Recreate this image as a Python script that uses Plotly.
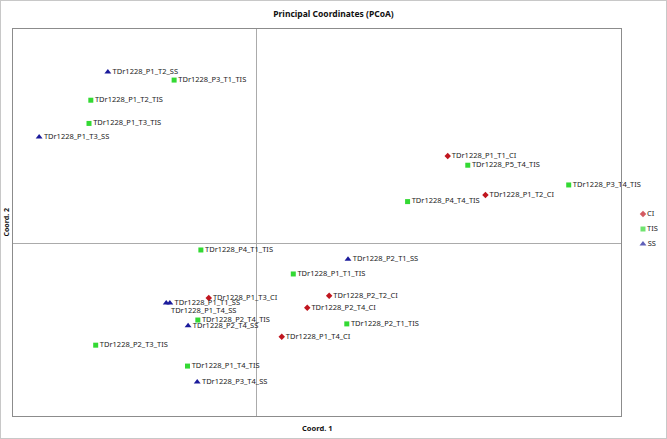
import plotly.graph_objects as go

# PCoA scores
ci_names = ["TDr1228_P1_T1_CI", "TDr1228_P1_T2_CI", "TDr1228_P1_T3_CI",
            "TDr1228_P2_T2_CI", "TDr1228_P2_T4_CI", "TDr1228_P1_T4_CI"]
ci_x = [0.315, 0.377, -0.078, 0.120, 0.084, 0.042]
ci_y = [0.227, 0.126, -0.140, -0.134, -0.165, -0.240]

tis_names = ["TDr1228_P3_T1_TIS", "TDr1228_P1_T2_TIS", "TDr1228_P1_T3_TIS",
             "TDr1228_P5_T4_TIS", "TDr1228_P3_T4_TIS", "TDr1228_P4_T4_TIS",
             "TDr1228_P4_T1_TIS", "TDr1228_P1_T1_TIS", "TDr1228_P2_T4_TIS",
             "TDr1228_P2_T1_TIS", "TDr1228_P2_T3_TIS", "TDr1228_P1_T4_TIS"]
tis_x = [-0.135, -0.272, -0.275, 0.348, 0.514, 0.249,
         -0.091, 0.061, -0.096, 0.149, -0.264, -0.113]
tis_y = [0.423, 0.371, 0.311, 0.203, 0.152, 0.109,
         -0.016, -0.078, -0.197, -0.207, -0.262, -0.316]

ss_names = ["TDr1228_P1_T2_SS", "TDr1228_P1_T3_SS", "TDr1228_P2_T1_SS",
            "TDr1228_P1_T1_SS", "TDr1228_P1_T4_SS", "TDr1228_P2_T4_SS",
            "TDr1228_P3_T4_SS"]
ss_x = [-0.244, -0.357, 0.151, -0.142, -0.148, -0.112, -0.097]
ss_y = [0.444, 0.276, -0.040, -0.153, -0.153, -0.212, -0.357]

legend_labels = ["CI", "TIS", "SS"]

FONT = "Noto Sans, sans-serif"

# labels that were nudged to avoid overlap in the original
label_pos = {"TDr1228_P1_T4_SS": "bottom right"}

groups = [
    ("CI", ci_names, ci_x, ci_y, "diamond", 5, "#C0161F"),
    ("TIS", tis_names, tis_x, tis_y, "square", 5, "#33D933"),
    ("SS", ss_names, ss_x, ss_y, "triangle-up", 6, "#1B1B9B"),
]

fig = go.Figure()
for name, labels, xs, ys, sym, size, color in groups:
    fig.add_trace(go.Scatter(
        x=xs, y=ys, mode="markers+text", name=name, showlegend=False,
        text=labels,
        textposition=[label_pos.get(l, "middle right") for l in labels],
        textfont=dict(family=FONT, size=7.5, color="#222222"),
        marker=dict(symbol=sym, size=size, color=color, line=dict(width=0)),
        cliponaxis=False,
    ))

# hand-made legend in the strip right of the frame (x2/y2 run in page pixels)
leg_y = [214, 229, 244]
fig.add_trace(go.Scatter(
    x=[643] * 3, y=leg_y, mode="markers+text", showlegend=False,
    xaxis="x2", yaxis="y2", text=legend_labels, textposition="middle right",
    textfont=dict(family=FONT, size=7.5, color="#222222"),
    marker=dict(symbol=[g[4] for g in groups], size=[5, 5, 6],
                color=[g[6] for g in groups], line=dict(width=0)),
    cliponaxis=False,
))

axis_common = dict(
    showgrid=False, showticklabels=False, ticks="",
    showline=True, mirror=True, linecolor="#8C8C8C", linewidth=1.2,
    zeroline=True, zerolinecolor="#ABABAB", zerolinewidth=1,
)
hidden = dict(visible=False, showgrid=False, zeroline=False)

fig.update_layout(
    width=667, height=439,
    margin=dict(l=13, r=0, t=29, b=23),
    paper_bgcolor="white", plot_bgcolor="white",
    font=dict(family=FONT, size=8, color="#222222"),
    title=dict(text="<b>Principal Coordinates (PCoA)</b>", xref="container",
               x=0.5, y=0.968, yanchor="middle", xanchor="center",
               font=dict(family=FONT, size=8.5, color="#111111")),
    xaxis=dict(range=[-0.40, 0.60], domain=[0, 608 / 654], **axis_common),
    yaxis=dict(range=[-0.445, 0.555], **axis_common),
    xaxis2=dict(domain=[0.935, 1], range=[624.5, 667], anchor="y2", **hidden),
    yaxis2=dict(domain=[0, 1], range=[416, 29], anchor="x2", **hidden),
    annotations=[
        dict(text="<b>Coord. 1</b>", xref="x domain", yref="paper", x=0.5, y=-0.012,
             xanchor="center", yanchor="top", showarrow=False,
             font=dict(family=FONT, size=7.5, color="#111111")),
        dict(text="<b>Coord. 2</b>", xref="paper", yref="paper", x=-7 / 654, y=0.5,
             xanchor="center", yanchor="middle", textangle=-90, showarrow=False,
             font=dict(family=FONT, size=7, color="#111111")),
    ],
    shapes=[dict(type="rect", xref="paper", yref="paper",
                 x0=-13 / 654, x1=1.0, y0=-23 / 387, y1=1 + 29 / 387,
                 line=dict(color="#C8C8C8", width=2))],
)

fig.write_html("out.html", config={"displayModeBar": False},
               post_script="document.body.style.margin='0px';")
